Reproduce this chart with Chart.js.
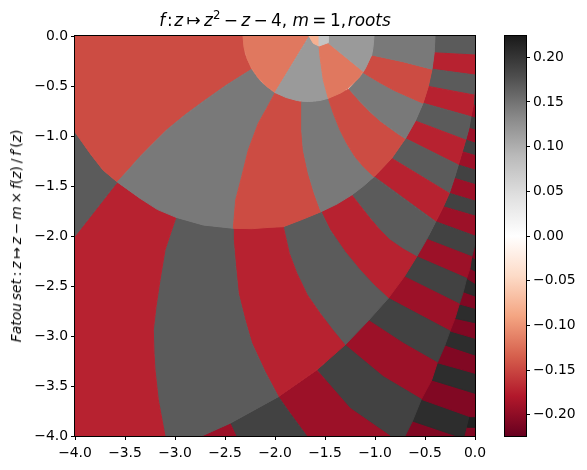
<!DOCTYPE html>
<html>
<head>
<meta charset="utf-8">
<script src="https://cdn.jsdelivr.net/npm/chart.js@4"></script>
<style>
  body { margin: 0; background: #fff; }
  #wrap { position: relative; width: 587px; height: 470px; overflow: hidden; font-family: "DejaVu Sans"; color: #000; }
  canvas { position: absolute; left: 0; top: 0; }
  #title { position: absolute; left: 75px; width: 400px; top: 10px; text-align: center; font-size: 16.9px; white-space: nowrap; }
  #title sup { font-size: 11.7px; line-height: 0; }
  #ylabel { position: absolute; left: 16px; top: 236px; font-size: 13.9px; white-space: nowrap; transform: translate(-50%, -50%) rotate(-90deg); }
</style>
</head>
<body>
<div id="wrap">
  <canvas id="fatou" width="587" height="470"></canvas>
  <canvas id="cbar" width="587" height="470"></canvas>
  <div id="title"><i>f</i>&#8202;:&#8202;<i>z</i>&#8201;↦&#8201;<i>z</i><sup>2</sup>&#8201;−&#8201;<i>z</i>&#8201;−&#8201;4, <i>m</i>&#8201;=&#8201;1,&#8202;<i>roots</i></div>
  <div id="ylabel"><i>Fatou&#8201;set</i>&#8201;:&#8201;<i>z</i>&#8201;↦&#8201;<i>z</i>&#8201;−&#8201;<i>m</i>&#8201;×&#8201;<i>f</i>(<i>z</i>)&#8201;/&#8201;<i>f</i>′(<i>z</i>)</div>
</div>
<script>
// value for each region (same order as regionOutlines)
const regionValues = [
  0.207,
  // outermost bands
  -0.208, 0.207, -0.208, 0.207, -0.208, 0.207, -0.208, 0.207, -0.208, 0.207, -0.208, 0.207, -0.208,
  -0.208, 0.218, -0.208,
  // fourth ring
  -0.192, 0.189, -0.192, 0.189, -0.192, 0.189, -0.192, 0.189, -0.192, 0.189, -0.192, 0.189,
  -0.192, 0.189, -0.192, 0.189, -0.192, 0.189, -0.192, 0.189, -0.192,
  // third ring
  0.168, -0.173, 0.168, -0.173, 0.168, -0.173, 0.168, -0.173, 0.168, -0.173, 0.168, -0.173, 0.168, -0.173, 0.168,
  // second ring
  -0.147, 0.145, -0.147, 0.145, -0.147, 0.145, -0.147, 0.145,
  // inner disc
  -0.119, 0.118, -0.119, 0.118, -0.08, 0.077
];

// region outlines in data units, outer regions first, [re, im]
const regionOutlines = [
  [[-1.5,-2],[0,-2],[0,-4],[-1.5,-4]],

  [[-0.70,-4],[-0.625,-3.85],[-0.183,-4]],
  [[-0.537,-3.633],[-0.625,-3.85],[-0.183,-4],[-0.10,-4],[-0.077,-3.913],[-0.05,-3.807]],
  [[-0.433,-3.44],[-0.537,-3.633],[-0.05,-3.807],[-0.017,-3.64],[0,-3.61],[0,-3.573]],
  [[-0.377,-3.267],[-0.433,-3.44],[0,-3.573],[0,-3.373]],
  [[-0.30,-3.09],[-0.377,-3.267],[0,-3.373],[0,-3.19]],
  [[-0.25,-2.95],[-0.30,-3.09],[0,-3.19],[0,-3.023]],
  [[-0.20,-2.823],[-0.25,-2.95],[0,-3.023],[0,-2.867]],
  [[-0.157,-2.68],[-0.20,-2.823],[0,-2.867],[0,-2.723]],
  [[-0.117,-2.557],[-0.157,-2.68],[0,-2.723],[0,-2.60]],
  [[-0.083,-2.423],[-0.117,-2.557],[0,-2.60],[0,-2.473]],
  [[-0.05,-2.323],[-0.083,-2.423],[0,-2.473],[0,-2.35]],
  [[-0.033,-2.207],[-0.05,-2.323],[0,-2.35],[0,-2.23]],
  [[-0.01,-2.123],[-0.033,-2.207],[0,-2.23],[0,-2.14]],
  [[-0.10,-4],[-0.077,-3.913],[0,-3.913],[0,-4]],
  [[-0.077,-3.913],[-0.05,-3.807],[0,-3.807],[0,-3.913]],
  [[-0.05,-3.807],[-0.017,-3.64],[0,-3.61],[0,-3.807]],

  [[0,-0.49],[-0.01,-0.59],[0,-0.60]],
  [[-0.01,-0.59],[-0.017,-0.69],[0,-0.695],[0,-0.60]],
  [[-0.017,-0.69],[-0.04,-0.807],[0,-0.82],[0,-0.695]],
  [[-0.04,-0.807],[-0.06,-0.923],[0,-0.94],[0,-0.82]],
  [[-0.06,-0.923],[-0.093,-1.04],[0,-1.07],[0,-0.94]],
  [[-0.093,-1.04],[-0.127,-1.157],[0,-1.195],[0,-1.07]],
  [[-0.127,-1.157],[-0.167,-1.29],[0,-1.34],[0,-1.195]],
  [[-0.167,-1.29],[-0.207,-1.423],[0,-1.485],[0,-1.34]],
  [[-0.207,-1.423],[-0.257,-1.573],[0,-1.65],[0,-1.485]],
  [[-0.257,-1.573],[-0.317,-1.707],[0,-1.80],[0,-1.65]],
  [[-0.317,-1.707],[-0.393,-1.857],[0,-2.0],[0,-1.80]],
  [[-0.393,-1.857],[-0.483,-2.033],[-0.033,-2.207],[-0.01,-2.123],[0,-2.04],[0,-2.0]],
  [[-0.483,-2.033],[-0.583,-2.207],[-0.083,-2.423],[-0.05,-2.323],[-0.033,-2.207]],
  [[-0.583,-2.207],[-0.707,-2.407],[-0.157,-2.68],[-0.117,-2.557],[-0.083,-2.423]],
  [[-0.707,-2.407],[-0.867,-2.623],[-0.25,-2.95],[-0.20,-2.823],[-0.157,-2.68]],
  [[-0.867,-2.623],[-1.065,-2.845],[-0.717,-3.073],[-0.377,-3.267],[-0.30,-3.09],[-0.25,-2.95]],
  [[-1.065,-2.845],[-1.30,-3.09],[-0.917,-3.407],[-0.537,-3.633],[-0.433,-3.44],[-0.377,-3.267],[-0.717,-3.073]],
  [[-1.30,-3.09],[-1.583,-3.34],[-1.25,-3.723],[-0.85,-4],[-0.70,-4],[-0.625,-3.85],[-0.537,-3.633],[-0.917,-3.407]],
  [[-1.583,-3.34],[-1.967,-3.607],[-1.85,-3.773],[-1.683,-4],[-0.85,-4],[-1.25,-3.723]],
  [[-1.967,-3.607],[-2.45,-3.873],[-2.39,-4],[-1.683,-4],[-1.85,-3.773]],
  [[-2.45,-3.873],[-2.733,-4],[-2.39,-4]],

  [[-0.40,0],[-0.408,-0.168],[0,-0.19],[0,0]],
  [[-0.408,-0.168],[-0.43,-0.332],[0,-0.39],[0,-0.19]],
  [[-0.43,-0.332],[-0.467,-0.504],[-0.01,-0.59],[0,-0.49],[0,-0.39]],
  [[-0.467,-0.504],[-0.52,-0.672],[-0.04,-0.807],[-0.017,-0.69],[-0.01,-0.59]],
  [[-0.52,-0.672],[-0.597,-0.85],[-0.093,-1.04],[-0.06,-0.923],[-0.04,-0.807]],
  [[-0.597,-0.85],[-0.696,-1.026],[-0.167,-1.29],[-0.127,-1.157],[-0.093,-1.04]],
  [[-0.696,-1.026],[-0.833,-1.223],[-0.257,-1.573],[-0.207,-1.423],[-0.167,-1.29]],
  [[-0.833,-1.223],[-1.01,-1.407],[-0.393,-1.857],[-0.317,-1.707],[-0.257,-1.573]],
  [[-1.01,-1.407],[-1.233,-1.59],[-1.05,-1.823],[-0.95,-1.94],[-0.85,-2.04],[-0.72,-2.13],[-0.583,-2.207],[-0.483,-2.033],[-0.393,-1.857]],
  [[-1.233,-1.59],[-1.54,-1.757],[-1.45,-1.94],[-1.30,-2.157],[-1.15,-2.34],[-1.01,-2.49],[-0.867,-2.623],[-0.707,-2.407],[-0.583,-2.207],[-0.72,-2.13],[-0.85,-2.04],[-0.95,-1.94],[-1.05,-1.823]],
  [[-1.54,-1.757],[-1.917,-1.907],[-1.91,-1.94],[-1.857,-2.173],[-1.783,-2.37],[-1.677,-2.59],[-1.55,-2.773],[-1.423,-2.94],[-1.30,-3.09],[-1.065,-2.845],[-0.867,-2.623],[-1.01,-2.49],[-1.15,-2.34],[-1.30,-2.157],[-1.45,-1.94]],
  [[-1.917,-1.907],[-2.05,-1.913],[-2.417,-1.923],[-2.417,-2.04],[-2.393,-2.307],[-2.367,-2.573],[-2.30,-2.84],[-2.233,-3.07],[-2.10,-3.357],[-1.967,-3.607],[-1.583,-3.34],[-1.30,-3.09],[-1.423,-2.94],[-1.55,-2.773],[-1.677,-2.59],[-1.783,-2.37],[-1.857,-2.173],[-1.91,-1.94]],
  [[-2.417,-1.923],[-2.717,-1.89],[-2.99,-1.813],[-3.033,-1.94],[-3.10,-2.14],[-3.15,-2.44],[-3.19,-2.707],[-3.217,-2.94],[-3.21,-3.173],[-3.2,-3.34],[-3.167,-3.64],[-3.10,-4],[-2.733,-4],[-2.45,-3.873],[-1.967,-3.607],[-2.10,-3.357],[-2.233,-3.07],[-2.30,-2.84],[-2.367,-2.573],[-2.393,-2.307],[-2.417,-2.04]],
  [[-3.577,-1.46],[-3.35,-1.623],[-2.99,-1.813],[-3.033,-1.94],[-3.10,-2.14],[-3.15,-2.44],[-3.19,-2.707],[-3.217,-2.94],[-3.21,-3.173],[-3.2,-3.34],[-3.167,-3.64],[-3.10,-4],[-4,-4],[-4,-2]],
  [[-4,-0.96],[-3.85,-1.173],[-3.72,-1.34],[-3.577,-1.46],[-4,-2]],

  [[-4,0],[-2.32,0],[-2.30,-0.18],[-2.233,-0.333],[-2.483,-0.49],[-2.72,-0.657],[-2.9,-0.79],[-3.083,-0.94],[-3.217,-1.073],[-3.35,-1.207],[-3.467,-1.34],[-3.577,-1.46],[-3.72,-1.34],[-3.85,-1.173],[-4,-0.96]],
  [[-2.233,-0.333],[-2.14,-0.46],[-2.0,-0.57],[-2.083,-0.723],[-2.167,-0.873],[-2.267,-1.14],[-2.333,-1.407],[-2.393,-1.64],[-2.417,-1.923],[-2.717,-1.89],[-2.99,-1.813],[-3.176,-1.735],[-3.35,-1.623],[-3.577,-1.46],[-3.467,-1.34],[-3.35,-1.207],[-3.217,-1.073],[-3.083,-0.94],[-2.9,-0.79],[-2.72,-0.657],[-2.483,-0.49]],
  [[-2.0,-0.57],[-1.85,-0.625],[-1.733,-0.657],[-1.733,-0.94],[-1.717,-1.14],[-1.667,-1.373],[-1.607,-1.573],[-1.54,-1.757],[-1.724,-1.833],[-1.917,-1.907],[-2.05,-1.913],[-2.229,-1.927],[-2.417,-1.923],[-2.393,-1.64],[-2.333,-1.407],[-2.267,-1.14],[-2.167,-0.873],[-2.083,-0.723]],
  [[-1.733,-0.657],[-1.62,-0.657],[-1.467,-0.623],[-1.417,-0.773],[-1.35,-0.94],[-1.283,-1.073],[-1.2,-1.207],[-1.11,-1.313],[-1.01,-1.407],[-1.115,-1.50],[-1.233,-1.59],[-1.38,-1.68],[-1.54,-1.757],[-1.607,-1.573],[-1.667,-1.373],[-1.717,-1.14],[-1.733,-0.94]],
  [[-1.467,-0.623],[-1.26,-0.53],[-1.157,-0.647],[-1.05,-0.757],[-0.95,-0.847],[-0.85,-0.92],[-0.777,-0.973],[-0.696,-1.026],[-0.833,-1.223],[-1.01,-1.407],[-1.11,-1.313],[-1.2,-1.207],[-1.283,-1.073],[-1.35,-0.94],[-1.417,-0.773]],
  [[-1.26,-0.53],[-1.117,-0.367],[-0.967,-0.457],[-0.817,-0.54],[-0.667,-0.607],[-0.52,-0.672],[-0.597,-0.85],[-0.696,-1.026],[-0.777,-0.973],[-0.85,-0.92],[-0.95,-0.847],[-1.05,-0.757],[-1.157,-0.647]],
  [[-1.117,-0.367],[-1.033,-0.19],[-0.72,-0.257],[-0.43,-0.332],[-0.467,-0.504],[-0.52,-0.672],[-0.667,-0.607],[-0.817,-0.54],[-0.967,-0.457]],
  [[-1.01,0],[-1.033,-0.19],[-0.72,-0.257],[-0.43,-0.332],[-0.408,-0.168],[-0.40,0]],

  [[-2.32,0],[-1.66,0],[-2.0,-0.565],[-2.086,-0.502],[-2.167,-0.421],[-2.232,-0.3275],[-2.28,-0.224],[-2.31,-0.114]],
  [[-1.66,-0.007],[-1.617,-0.073],[-1.56,-0.10],[-1.55,-0.207],[-1.517,-0.44],[-1.467,-0.623],[-1.551,-0.645],[-1.665,-0.655],[-1.733,-0.651],[-1.779,-0.645],[-1.889,-0.615],[-2.0,-0.565]],
  [[-1.56,-0.10],[-1.47,-0.067],[-1.117,-0.355],[-1.163,-0.421],[-1.26,-0.515],[-1.3375,-0.567],[-1.467,-0.623],[-1.517,-0.44],[-1.55,-0.207]],
  [[-1.47,-0.067],[-1.467,0],[-1.01,0],[-1.02,-0.114],[-1.033,-0.19],[-1.05,-0.224],[-1.098,-0.3275],[-1.117,-0.355]],
  [[-1.66,0],[-1.56,0],[-1.56,-0.10],[-1.617,-0.073]],
  [[-1.56,0],[-1.467,0],[-1.47,-0.067],[-1.56,-0.10]]
];

const xTicks = [-4, -3.5, -3, -2.5, -2, -1.5, -1, -0.5, 0];
const yTicks = [-4, -3.5, -3, -2.5, -2, -1.5, -1, -0.5, 0];
const colorbarTicks = [-0.2, -0.15, -0.1, -0.05, 0, 0.05, 0.1, 0.15, 0.2];
const colorbarRange = [-0.2238, 0.2238];
const cmapColors = ["#67001f", "#b2182b", "#d6604d", "#f4a582", "#fddbc7", "#ffffff", "#e0e0e0", "#bababa", "#878787", "#4d4d4d", "#1a1a1a"];

function rgbOf(hex) {
  return [1, 3, 5].map(i => parseInt(hex.slice(i, i + 2), 16));
}

function colorOf(v) {
  const t = (v - colorbarRange[0]) / (colorbarRange[1] - colorbarRange[0]) * (cmapColors.length - 1);
  const i = Math.min(Math.floor(t), cmapColors.length - 2);
  const a = rgbOf(cmapColors[i]), b = rgbOf(cmapColors[i + 1]);
  const c = a.map((n, k) => Math.round(n + (b[k] - n) * (t - i)));
  return `rgb(${c[0]},${c[1]},${c[2]})`;
}

const minusSign = s => s.replace("-", "\u2212");
const tickFont = { family: "DejaVu Sans", size: 13.9 };

function fixedTicks(list) {
  return axis => { axis.ticks = list.map(value => ({ value })); };
}

const frame = {
  id: "frame",
  afterDatasetsDraw(chart) {
    const { left, top, right, bottom } = chart.chartArea;
    const ctx = chart.ctx;
    ctx.save();
    ctx.strokeStyle = "#000";
    ctx.lineWidth = 1;
    ctx.strokeRect(left - 0.5, top - 0.5, right - left + 1, bottom - top + 1);
    ctx.restore();
  }
};

// chart.js paints the first dataset last, so the list is flipped
const datasets = regionOutlines.map((outline, i) => {
  const color = colorOf(regionValues[i]);
  return {
    data: outline.concat([outline[0]]).map(p => ({ x: p[0], y: p[1] })),
    showLine: true,
    fill: "shape",
    backgroundColor: color,
    borderColor: color,
    borderWidth: 1,
    pointRadius: 0,
    clip: 0
  };
}).reverse();

new Chart(document.getElementById("fatou"), {
  type: "scatter",
  data: { datasets },
  options: {
    responsive: false,
    animation: false,
    layout: { padding: { top: 36, right: 112, left: 0, bottom: 0 } },
    plugins: { legend: { display: false }, tooltip: { enabled: false } },
    scales: {
      x: {
        type: "linear", min: -4, max: 0,
        afterBuildTicks: fixedTicks(xTicks),
        afterFit: s => { s.height = 34; },
        border: { display: false },
        grid: { drawOnChartArea: false, tickLength: 4, tickColor: "#000" },
        ticks: { color: "#000", font: tickFont, maxRotation: 0, padding: 5, autoSkip: false,
                 callback: v => minusSign(v.toFixed(1)) }
      },
      y: {
        type: "linear", min: -4, max: 0,
        afterBuildTicks: fixedTicks(yTicks),
        afterFit: s => { s.width = 75; },
        border: { display: false },
        grid: { drawOnChartArea: false, tickLength: 4, tickColor: "#000" },
        ticks: { color: "#000", font: tickFont, padding: 3, autoSkip: false,
                 callback: v => minusSign(v.toFixed(1)) }
      }
    }
  },
  plugins: [frame]
});

new Chart(document.getElementById("cbar"), {
  type: "bar",
  data: {
    labels: ["scale"],
    datasets: [{
      data: [colorbarRange],
      barPercentage: 1,
      categoryPercentage: 1,
      backgroundColor(ctx) {
        const y = ctx.chart.scales.y;
        const from = y ? y.getPixelForValue(colorbarRange[0]) : NaN;
        const to = y ? y.getPixelForValue(colorbarRange[1]) : NaN;
        if (!Number.isFinite(from) || !Number.isFinite(to)) return "#888";
        const g = ctx.chart.ctx.createLinearGradient(0, from, 0, to);
        cmapColors.forEach((c, i) => g.addColorStop(i / (cmapColors.length - 1), c));
        return g;
      }
    }]
  },
  options: {
    responsive: false,
    animation: false,
    layout: { padding: { top: 36, bottom: 34, left: 505, right: 0 } },
    plugins: { legend: { display: false }, tooltip: { enabled: false } },
    scales: {
      x: { display: false },
      y: {
        position: "right",
        min: colorbarRange[0], max: colorbarRange[1],
        afterBuildTicks: fixedTicks(colorbarTicks),
        afterFit: s => { s.width = 61; },
        border: { display: false },
        grid: { drawOnChartArea: false, tickLength: 4, tickColor: "#000" },
        ticks: { color: "#000", font: tickFont, padding: 3, autoSkip: false,
                 callback: v => minusSign(v.toFixed(2)) }
      }
    }
  },
  plugins: [frame]
});
</script>
</body>
</html>
